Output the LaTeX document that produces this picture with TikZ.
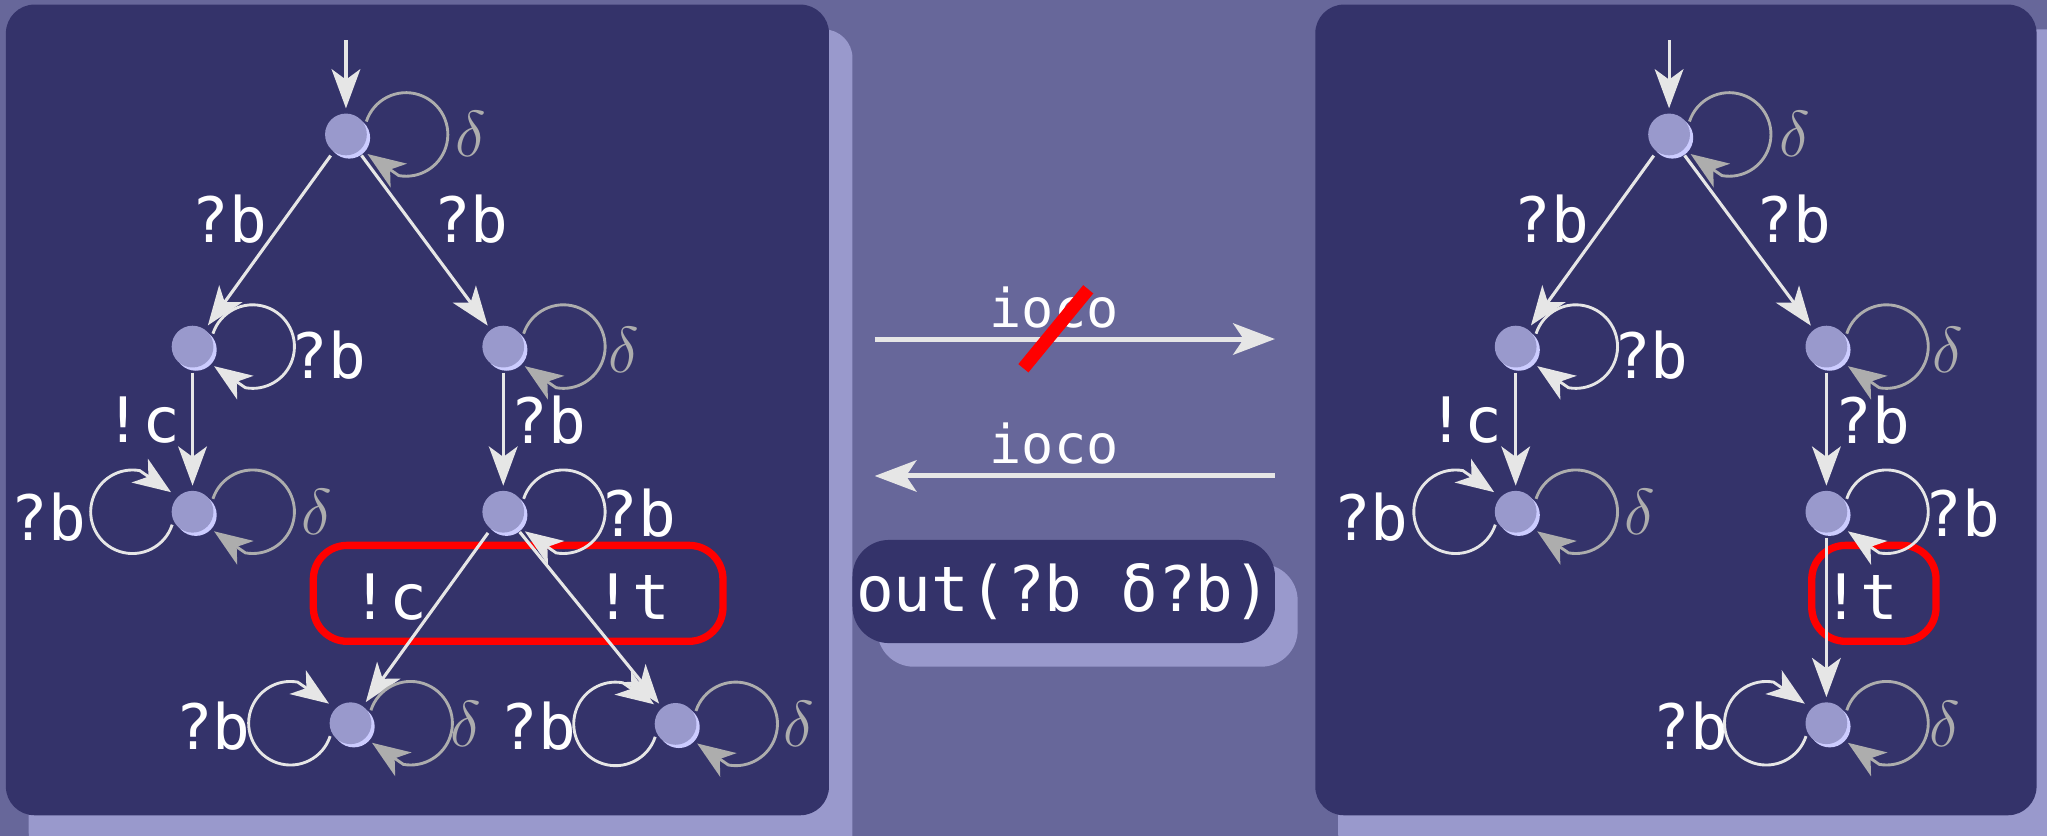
\documentclass[tikz,border=0pt]{standalone}
\usepackage{fontspec}
\usetikzlibrary{arrows.meta}
\newfontfamily\lblfont{DejaVu Sans Mono}
\definecolor{bgc}{HTML}{67679A}
\definecolor{panelc}{HTML}{34336A}
\definecolor{shadc}{HTML}{9999CC}
\definecolor{nodec}{HTML}{9999CC}
\definecolor{nodesh}{HTML}{CCCCFF}
\definecolor{edgec}{HTML}{E6E6E6}
\definecolor{dloopc}{HTML}{ADADAD}
\newcommand\mkstate[3]{\fill[nodesh] (#2+2.5,#3+2.5) circle[radius=8pt]; \node[state] (#1) at (#2,#3) {};}
\newcommand\rloop[2]{\draw[#1] ([shift={(15.6,-9.9)}]#2.center) arc[start angle=198,end angle=460,radius=32] -- ([shift={(16.5,15)}]#2.center);}
\newcommand\lloop[2]{\draw[#1] ([shift={(-15.6,9.9)}]#2.center) arc[start angle=18,end angle=280,radius=32] -- ([shift={(-16.5,-15)}]#2.center);}
\begin{document}
\begin{tikzpicture}[x=0.5pt,y=-0.5pt,
  state/.style={circle, fill=nodec, minimum size=16pt, inner sep=0pt, outer sep=2pt},
  edge/.style={draw=edgec, line width=1.2pt, -{Stealth[length=15pt,width=11pt,inset=4pt]}},
  wloop/.style={draw=edgec, line width=1.1pt, -{Stealth[length=14.5pt,width=11pt,inset=4pt,fill=edgec]}},
  dloop/.style={draw=dloopc, line width=1.1pt, -{Stealth[length=14.5pt,width=11pt,inset=4pt,fill=dloopc]}},
  marrow/.style={draw=edgec, line width=1.9pt, -{Stealth[length=16pt,width=12pt,inset=4pt]}},
  lbl/.style={font=\lblfont\fontsize{24}{26}\selectfont, text=white, inner sep=0pt},
  iocol/.style={font=\lblfont\fontsize{20.5}{22}\selectfont, text=white, inner sep=0pt},
  dl/.style={font=\fontsize{24}{25}\selectfont, text=dloopc, inner sep=0pt},
  redbox/.style={draw=red, line width=2.8pt, rounded corners=13pt, minimum height=36.75pt, inner sep=0pt}
]
\clip (0,0) rectangle (1568,640);
\fill[bgc] (0,0) rectangle (1568,640);
% panels
\fill[shadc, rounded corners=11pt] (22,22.5) rectangle (653,660);
\fill[panelc, rounded corners=11pt] (4.5,3.5) rectangle (635,624.5);
\fill[shadc, rounded corners=11pt] (1025,22.5) rectangle (1590,660);
\fill[panelc, rounded corners=11pt] (1007.5,3.5) rectangle (1560,624.5);
% middle
\fill[shadc, rounded corners=14pt] (672,432) rectangle (994,510.7);
\node[fill=panelc, rounded corners=14pt, minimum width=161.8pt, minimum height=39.5pt, inner sep=0pt, lbl] (out) at (814.8,453.1) {out(?b δ?b)};
\coordinate (a1s) at (670,259.7); \coordinate (a1e) at (976.6,259.7);
\draw[marrow] (a1s) -- (a1e);
\node[iocol, anchor=base] (io1) at (807.5,250.5) {ioco};
\coordinate (a2s) at (976.6,364.6); \coordinate (a2e) at (670,364.6);
\draw[marrow] (a2s) -- (a2e);
\node[iocol, anchor=base] (io2) at (807.5,354.8) {ioco};
\coordinate (sl1) at (783.9,282.1); \coordinate (sl2) at (833.6,221.6);
\draw[red, line width=5pt] (sl1) -- (sl2);
% red boxes
\node[redbox, minimum width=156.9pt] (rb1) at (396.9,454.5) {};
\node[redbox, minimum width=47.6pt] (rb2) at (1435.4,454.5) {};
% left graph
\mkstate{a0}{265}{103}
\mkstate{a1}{147.5}{265.5}
\mkstate{a2}{385.5}{265.5}
\mkstate{a3}{147.5}{392}
\mkstate{a4}{385.5}{392}
\mkstate{a5}{268.5}{554}
\mkstate{a6}{517.5}{554.5}
\coordinate (ia) at (265,31);
\draw[edge] (ia) -- (a0);
\draw[edge] (a0) -- (a1);
\draw[edge] (a0) -- (a2);
\draw[edge] (a1) -- (a3);
\draw[edge] (a2) -- (a4);
\draw[edge] (a4) -- (a5);
\draw[edge] (a4) -- (a6);
\rloop{dloop}{a0}
\rloop{wloop}{a1}
\rloop{dloop}{a2}
\lloop{wloop}{a3}
\rloop{dloop}{a3}
\rloop{wloop}{a4}
\lloop{wloop}{a5}
\rloop{dloop}{a5}
\lloop{wloop}{a6}
\rloop{dloop}{a6}
\node[dl] (la0) at (361,102.7) {$\delta$};
\node[lbl] (la01) at (175.5,168) {?b};
\node[lbl] (la02) at (360.6,168) {?b};
\node[lbl] (la1) at (251.5,272) {?b};
\node[dl] (la2) at (478,268) {$\delta$};
\node[lbl] (la13) at (109,322) {!c};
\node[lbl] (la24) at (420,322) {?b};
\node[lbl] (la3l) at (37,396) {?b};
\node[dl] (la3r) at (243,392) {$\delta$};
\node[lbl] (la4) at (489,393) {?b};
\node[lbl] (la45) at (298,457) {!c};
\node[lbl] (la46) at (484.5,457) {!t};
\node[lbl] (la5l) at (163,556) {?b};
\node[dl] (la5r) at (357,554.7) {$\delta$};
\node[lbl] (la6l) at (412.3,556) {?b};
\node[dl] (la6r) at (612,554.7) {$\delta$};
% right graph
\mkstate{b0}{1278.5}{103}
\mkstate{b1}{1161}{265.5}
\mkstate{b2}{1399}{265.5}
\mkstate{b3}{1161}{392}
\mkstate{b4}{1399}{392}
\mkstate{b5}{1399}{554}
\coordinate (ib) at (1278.5,31);
\draw[edge] (ib) -- (b0);
\draw[edge] (b0) -- (b1);
\draw[edge] (b0) -- (b2);
\draw[edge] (b1) -- (b3);
\draw[edge] (b2) -- (b4);
\draw[edge] (b4) -- (b5);
\rloop{dloop}{b0}
\rloop{wloop}{b1}
\rloop{dloop}{b2}
\lloop{wloop}{b3}
\rloop{dloop}{b3}
\rloop{wloop}{b4}
\lloop{wloop}{b5}
\rloop{dloop}{b5}
\node[dl] (lb0) at (1375,102.7) {$\delta$};
\node[lbl] (lb01) at (1188.5,168) {?b};
\node[lbl] (lb02) at (1373.6,168) {?b};
\node[lbl] (lb1) at (1264.5,272) {?b};
\node[dl] (lb2) at (1492,268) {$\delta$};
\node[lbl] (lb13) at (1122,322) {!c};
\node[lbl] (lb24) at (1434,322) {?b};
\node[lbl] (lb3l) at (1050,396) {?b};
\node[dl] (lb3r) at (1256,392) {$\delta$};
\node[lbl] (lb4) at (1503,393) {?b};
\node[lbl] (lb45) at (1425,457) {!t};
\node[lbl] (lb5l) at (1295,556) {?b};
\node[dl] (lb5r) at (1490,554.7) {$\delta$};
\end{tikzpicture}
\end{document}
